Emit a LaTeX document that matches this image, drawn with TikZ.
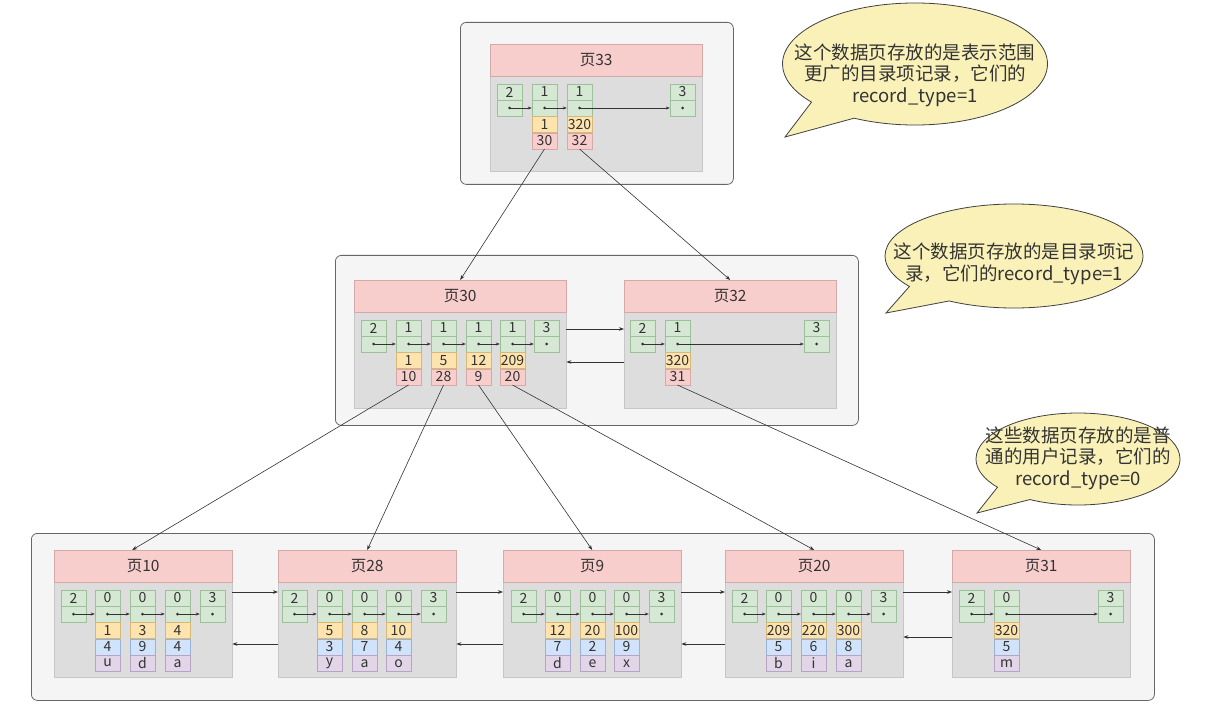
\documentclass[tikz,border=0pt]{standalone}
\usepackage{fontspec}
\setmainfont{Noto Sans CJK SC}
\usetikzlibrary{arrows.meta,shapes.callouts,positioning,calc}
\definecolor{cText}{HTML}{333333}
\definecolor{cLine}{HTML}{333333}
\definecolor{cGreen}{HTML}{D5E8D4}
\definecolor{cGreenS}{HTML}{9DBF9A}
\definecolor{cYel}{HTML}{FDE3AE}
\definecolor{cYelS}{HTML}{D8B878}
\definecolor{cPink}{HTML}{F8CECC}
\definecolor{cPinkS}{HTML}{D4A9A7}
\definecolor{cBlue}{HTML}{D0E3FA}
\definecolor{cBlueS}{HTML}{98B3D8}
\definecolor{cPurp}{HTML}{E1D5E7}
\definecolor{cPurpS}{HTML}{B7A3C4}
\definecolor{cBody}{HTML}{DDDDDD}
\definecolor{cBodyS}{HTML}{C6C6C6}
\definecolor{cCont}{HTML}{F5F5F5}
\definecolor{cContS}{HTML}{666666}
\definecolor{cNote}{RGB}{249,241,184}
\newcommand\cellfont{\fontsize{14}{15}\selectfont}
% cell: name, left x, top y, text
\newcommand\rcell[4]{%
  \node[gcell] (#1t) at (#2+12.5,#3+8) {#4};
  \node[gcell] (#1b) at (#2+12.5,#3+24) {};
  \fill[cLine] (#1b.center) circle (1.5pt);}
\newcommand\rlink[2]{\draw[iarr] (#1b.center) -- (#2b.west);}
\begin{document}
\begin{tikzpicture}[x=1pt,y=-1pt,
  container/.style={draw=cContS, fill=cCont, rounded corners=6pt, line width=0.8pt, anchor=north west, inner sep=0},
  hdr/.style={draw=cPinkS, fill=cPink, minimum height=32pt, inner sep=0, anchor=north west, font=\fontsize{15.5}{18}\selectfont, text=cText},
  pbody/.style={draw=cBodyS, fill=cBody, anchor=north west, inner sep=0},
  gcell/.style={draw=cGreenS, fill=cGreen, minimum width=25pt, minimum height=16pt, inner sep=0, font=\cellfont, text=cText},
  yf/.style={gcell, draw=cYelS, fill=cYel},
  pf/.style={gcell, draw=cPinkS, fill=cPink},
  bf/.style={gcell, draw=cBlueS, fill=cBlue},
  vf/.style={gcell, draw=cPurpS, fill=cPurp},
  arr/.style={draw=cLine, line width=0.6pt, -{Stealth[length=5pt,width=3.6pt]}},
  iarr/.style={draw=cLine, line width=0.6pt, -{Stealth[length=4pt,width=3pt]}},
  note/.style={ellipse callout, draw=black!75, fill=cNote, line width=0.8pt, callout pointer arc=24},
  ntext/.style={align=center, text=cText, font=\fontsize{18.5}{21.5}\selectfont}
]
\fill[white] (0,0) rectangle (1226,727);
\useasboundingbox (0,0) rectangle (1226,727);

% ---------- containers ----------
\node[container, minimum width=273pt, minimum height=162pt] (c33) at (460,22) {};
\node[container, minimum width=523pt, minimum height=170pt] (cmid) at (335,255) {};
\node[container, minimum width=1123pt, minimum height=167pt] (cbot) at (31,533) {};

% ---------- page 33 ----------
\node[pbody, minimum width=212pt, minimum height=95pt] (b33) at (490,76) {};
\node[hdr, minimum width=212pt] (h33) at (490,44) {页33};
\rcell{p33-0}{497}{84}{2}
\rcell{p33-1}{532}{84}{1}
\rcell{p33-2}{567}{84}{1}
\rcell{p33-5}{670}{84}{3}
\node[yf, below=0pt of p33-1b] (p33-1k) {1};
\node[pf, below=0pt of p33-1k] (p33-1p) {30};
\node[yf, below=0pt of p33-2b] (p33-2k) {320};
\node[pf, below=0pt of p33-2k] (p33-2p) {32};
\rlink{p33-0}{p33-1}\rlink{p33-1}{p33-2}\rlink{p33-2}{p33-5}

% ---------- page 30 ----------
\node[pbody, minimum width=212pt, minimum height=96pt] (b30) at (354,312) {};
\node[hdr, minimum width=212pt] (h30) at (354,280) {页30};
\rcell{p30-0}{361}{320}{2}
\rcell{p30-1}{396}{320}{1}
\rcell{p30-2}{431}{320}{1}
\rcell{p30-3}{466}{320}{1}
\rcell{p30-4}{500}{320}{1}
\rcell{p30-5}{534}{320}{3}
\node[yf, below=0pt of p30-1b] (p30-1k) {1};
\node[pf, below=0pt of p30-1k] (p30-1p) {10};
\node[yf, below=0pt of p30-2b] (p30-2k) {5};
\node[pf, below=0pt of p30-2k] (p30-2p) {28};
\node[yf, below=0pt of p30-3b] (p30-3k) {12};
\node[pf, below=0pt of p30-3k] (p30-3p) {9};
\node[yf, below=0pt of p30-4b] (p30-4k) {209};
\node[pf, below=0pt of p30-4k] (p30-4p) {20};
\rlink{p30-0}{p30-1}\rlink{p30-1}{p30-2}\rlink{p30-2}{p30-3}\rlink{p30-3}{p30-4}\rlink{p30-4}{p30-5}

% ---------- page 32 ----------
\node[pbody, minimum width=212pt, minimum height=96pt] (b32) at (624,312) {};
\node[hdr, minimum width=212pt] (h32) at (624,280) {页32};
\rcell{p32-0}{630}{320}{2}
\rcell{p32-1}{665}{320}{1}
\rcell{p32-5}{804}{320}{3}
\node[yf, below=0pt of p32-1b] (p32-1k) {320};
\node[pf, below=0pt of p32-1k] (p32-1p) {31};
\rlink{p32-0}{p32-1}\rlink{p32-1}{p32-5}

% ---------- leaf pages ----------
% page 10
\node[pbody, minimum width=178pt, minimum height=95pt] (b10) at (54,582) {};
\node[hdr, minimum width=178pt] (h10) at (54,550) {页10};
\rcell{p10-0}{61}{590}{2}
\rcell{p10-1}{95}{590}{0}
\rcell{p10-2}{130}{590}{0}
\rcell{p10-3}{165}{590}{0}
\rcell{p10-4}{200}{590}{3}
\node[yf, below=0pt of p10-1b] (p10-1k) {1};
\node[bf, below=0pt of p10-1k] (p10-1c) {4};
\node[vf, below=0pt of p10-1c] (p10-1d) {u};
\node[yf, below=0pt of p10-2b] (p10-2k) {3};
\node[bf, below=0pt of p10-2k] (p10-2c) {9};
\node[vf, below=0pt of p10-2c] (p10-2d) {d};
\node[yf, below=0pt of p10-3b] (p10-3k) {4};
\node[bf, below=0pt of p10-3k] (p10-3c) {4};
\node[vf, below=0pt of p10-3c] (p10-3d) {a};
\rlink{p10-0}{p10-1}\rlink{p10-1}{p10-2}\rlink{p10-2}{p10-3}\rlink{p10-3}{p10-4}

% page 28
\node[pbody, minimum width=178pt, minimum height=95pt] (b28) at (278,582) {};
\node[hdr, minimum width=178pt] (h28) at (278,550) {页28};
\rcell{p28-0}{282}{590}{2}
\rcell{p28-1}{317}{590}{0}
\rcell{p28-2}{352}{590}{0}
\rcell{p28-3}{386}{590}{0}
\rcell{p28-4}{421}{590}{3}
\node[yf, below=0pt of p28-1b] (p28-1k) {5};
\node[bf, below=0pt of p28-1k] (p28-1c) {3};
\node[vf, below=0pt of p28-1c] (p28-1d) {y};
\node[yf, below=0pt of p28-2b] (p28-2k) {8};
\node[bf, below=0pt of p28-2k] (p28-2c) {7};
\node[vf, below=0pt of p28-2c] (p28-2d) {a};
\node[yf, below=0pt of p28-3b] (p28-3k) {10};
\node[bf, below=0pt of p28-3k] (p28-3c) {4};
\node[vf, below=0pt of p28-3c] (p28-3d) {o};
\rlink{p28-0}{p28-1}\rlink{p28-1}{p28-2}\rlink{p28-2}{p28-3}\rlink{p28-3}{p28-4}

% page 9
\node[pbody, minimum width=178pt, minimum height=95pt] (b9) at (503,582) {};
\node[hdr, minimum width=178pt] (h9) at (503,550) {页9};
\rcell{p9-0}{511}{590}{2}
\rcell{p9-1}{545}{590}{0}
\rcell{p9-2}{580}{590}{0}
\rcell{p9-3}{614}{590}{0}
\rcell{p9-4}{649}{590}{3}
\node[yf, below=0pt of p9-1b] (p9-1k) {12};
\node[bf, below=0pt of p9-1k] (p9-1c) {7};
\node[vf, below=0pt of p9-1c] (p9-1d) {d};
\node[yf, below=0pt of p9-2b] (p9-2k) {20};
\node[bf, below=0pt of p9-2k] (p9-2c) {2};
\node[vf, below=0pt of p9-2c] (p9-2d) {e};
\node[yf, below=0pt of p9-3b] (p9-3k) {100};
\node[bf, below=0pt of p9-3k] (p9-3c) {9};
\node[vf, below=0pt of p9-3c] (p9-3d) {x};
\rlink{p9-0}{p9-1}\rlink{p9-1}{p9-2}\rlink{p9-2}{p9-3}\rlink{p9-3}{p9-4}

% page 20
\node[pbody, minimum width=178pt, minimum height=95pt] (b20) at (725,582) {};
\node[hdr, minimum width=178pt] (h20) at (725,550) {页20};
\rcell{p20-0}{732}{590}{2}
\rcell{p20-1}{766}{590}{0}
\rcell{p20-2}{801}{590}{0}
\rcell{p20-3}{836}{590}{0}
\rcell{p20-4}{871}{590}{3}
\node[yf, below=0pt of p20-1b] (p20-1k) {209};
\node[bf, below=0pt of p20-1k] (p20-1c) {5};
\node[vf, below=0pt of p20-1c] (p20-1d) {b};
\node[yf, below=0pt of p20-2b] (p20-2k) {220};
\node[bf, below=0pt of p20-2k] (p20-2c) {6};
\node[vf, below=0pt of p20-2c] (p20-2d) {i};
\node[yf, below=0pt of p20-3b] (p20-3k) {300};
\node[bf, below=0pt of p20-3k] (p20-3c) {8};
\node[vf, below=0pt of p20-3c] (p20-3d) {a};
\rlink{p20-0}{p20-1}\rlink{p20-1}{p20-2}\rlink{p20-2}{p20-3}\rlink{p20-3}{p20-4}

% page 31
\node[pbody, minimum width=178pt, minimum height=95pt] (b31) at (952,582) {};
\node[hdr, minimum width=178pt] (h31) at (952,550) {页31};
\rcell{p31-0}{959}{590}{2}
\rcell{p31-1}{994}{590}{0}
\rcell{p31-4}{1098}{590}{3}
\node[yf, below=0pt of p31-1b] (p31-1k) {320};
\node[bf, below=0pt of p31-1k] (p31-1c) {5};
\node[vf, below=0pt of p31-1c] (p31-1d) {m};
\rlink{p31-0}{p31-1}\rlink{p31-1}{p31-4}

% ---------- sibling page links ----------
\draw[arr] ([yshift=-17pt]b30.north east) -- ([yshift=-17pt]b32.north west);
\draw[arr] ([yshift=-50pt]b32.north west) -- ([yshift=-50pt]b30.north east);
\draw[arr] ([yshift=-10pt]b10.north east) -- ([yshift=-10pt]b28.north west);
\draw[arr] ([yshift=-62pt]b28.north west) -- ([yshift=-62pt]b10.north east);
\draw[arr] ([yshift=-10pt]b28.north east) -- ([yshift=-10pt]b9.north west);
\draw[arr] ([yshift=-62pt]b9.north west) -- ([yshift=-62pt]b28.north east);
\draw[arr] ([yshift=-10pt]b9.north east) -- ([yshift=-10pt]b20.north west);
\draw[arr] ([yshift=-62pt]b20.north west) -- ([yshift=-62pt]b9.north east);
\draw[arr] ([yshift=-10pt]b20.north east) -- ([yshift=-10pt]b31.north west);
\draw[arr] ([yshift=-55pt]b31.north west) -- ([yshift=-55pt]b20.north east);

% ---------- parent -> child links ----------
\draw[arr] (p33-1p.south) -- (h30.north);
\draw[arr] (p33-2p.south) -- (h32.north);
\draw[arr] (p30-1p.south) -- ([xshift=-11pt]h10.north);
\draw[arr] (p30-2p.south) -- (h28.north);
\draw[arr] (p30-3p.south) -- (h9.north);
\draw[arr] (p30-4p.south) -- (h20.north);
\draw[arr] (p32-1p.south) -- (h31.north);

% ---------- callouts ----------
\node[note, minimum width=265pt, minimum height=122pt, callout absolute pointer={(785,137)}] (n1) at (915,64) {};
\node[ntext] (t1) at (915,75) {这个数据页存放的是表示范围\\更广的目录项记录，它们的\\record\_type=1};
\node[note, minimum width=258pt, minimum height=104pt, callout absolute pointer={(886,313)}] (n2) at (1014,256) {};
\node[ntext] (t2) at (1014,264) {这个数据页存放的是目录项记\\录，它们的record\_type=1};
\node[note, minimum width=204pt, minimum height=92pt, callout absolute pointer={(977,513)}] (n3) at (1078,459) {};
\node[ntext] (t3) at (1078,458) {这些数据页存放的是普\\通的用户记录，它们的\\record\_type=0};
\end{tikzpicture}
\end{document}
